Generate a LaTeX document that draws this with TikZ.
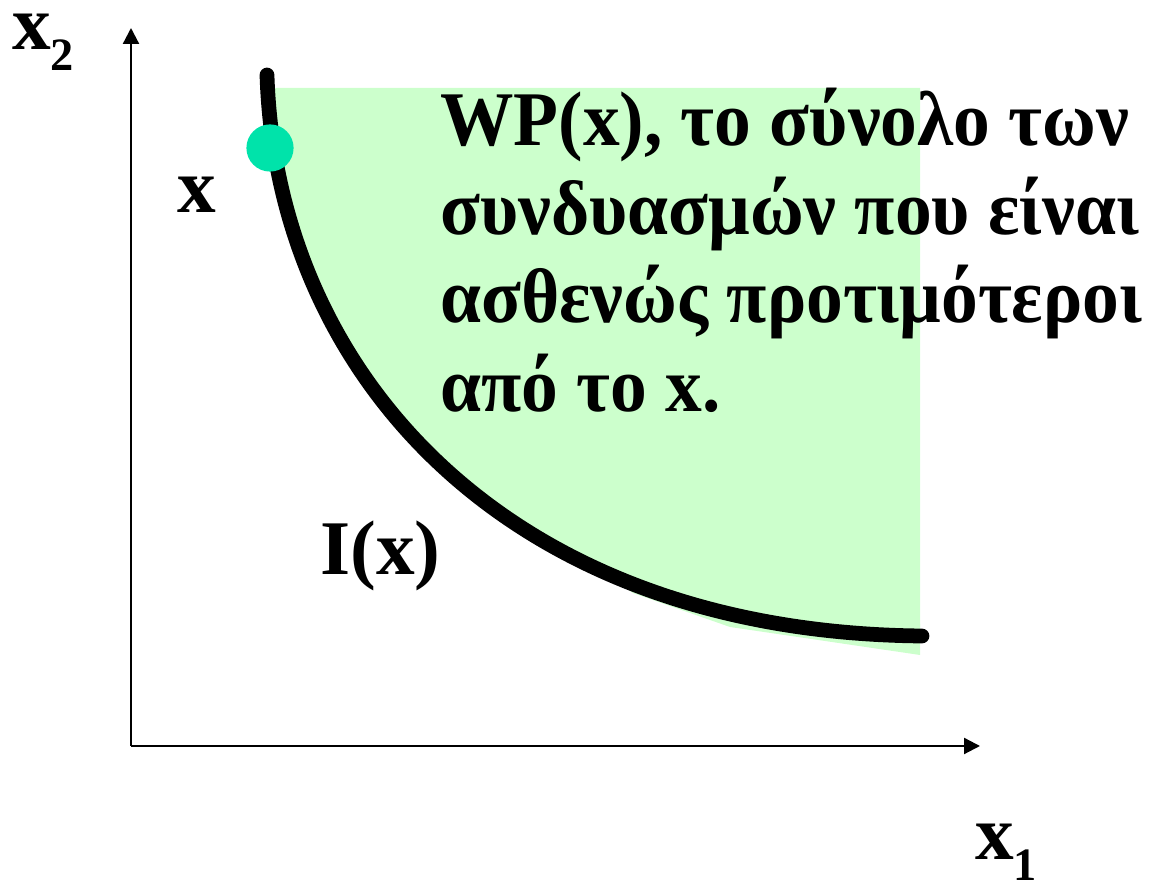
\documentclass[tikz,border=0pt]{standalone}
\usepackage{fontspec}
\setmainfont{Liberation Serif}
\newfontfamily\narrowfont[FakeStretch=0.95]{Liberation Serif}
\usetikzlibrary{arrows.meta}
\definecolor{softgreen}{HTML}{CCFFCC}
\definecolor{dotgreen}{HTML}{00E3AA}
\tikzset{
  axis/.style={-{Triangle[length=4mm,width=4mm]}, line width=1.6pt},
  curve/.style={line width=10.5pt, line cap=round},
  big/.style={font=\fontsize{55}{63}\selectfont\bfseries, inner sep=0pt},
}
\newcommand{\sub}[1]{\raisebox{-0.27em}{\fontsize{33}{33}\selectfont #1}}

\begin{document}
\begin{tikzpicture}
  \useasboundingbox (0,0) rectangle (28.85,22.2);

  % weakly preferred set
  \fill[softgreen] (6.85,20.0) .. controls (7.05,13.0) and (12.6,6.45) .. (23.0,6.25)
    -- (23.0,20.0) -- cycle;
  \fill[softgreen] (14.6,8.2) -- (15.825,7.375) -- (18.25,6.525) -- (23.0,5.825) -- (23.0,6.6) -- cycle;

  % axes
  \coordinate (o) at (3.275,3.55);
  \coordinate (ytip) at (3.275,21.5);
  \coordinate (xtip) at (24.5,3.55);
  \draw[axis] (o) -- (ytip);
  \draw[axis] (o) -- (xtip);

  % indifference curve
  \coordinate (ctop) at (6.675,20.325);
  \coordinate (cend) at (23.05,6.3);
  \draw[curve] (ctop) .. controls (6.9,13.0) and (12.5,6.4) .. (cend);

  \node[circle, fill=dotgreen, minimum size=1.18cm, inner sep=0pt] (pt) at (6.75,18.5) {};

  \node[big, anchor=base west] (xtwo) at (0.3,20.95) {x\sub{2}};
  \node[big, anchor=base west] (xone) at (24.375,0.72) {x\sub{1}};
  \node[big, anchor=base west] (xlab) at (4.425,16.875) {x};
  \node[big, anchor=base west] (ilab) at (8.0,7.825) {I(x)};
  \node[big, font=\fontsize{55}{63}\narrowfont\bfseries, anchor=north west, align=left] (wp) at (11.0,20.0)
    {WP(x), το σύνολο των\\
     συνδυασμών που είναι\\
     ασθενώς προτιμότεροι\\
     από το x.};
\end{tikzpicture}
\end{document}
